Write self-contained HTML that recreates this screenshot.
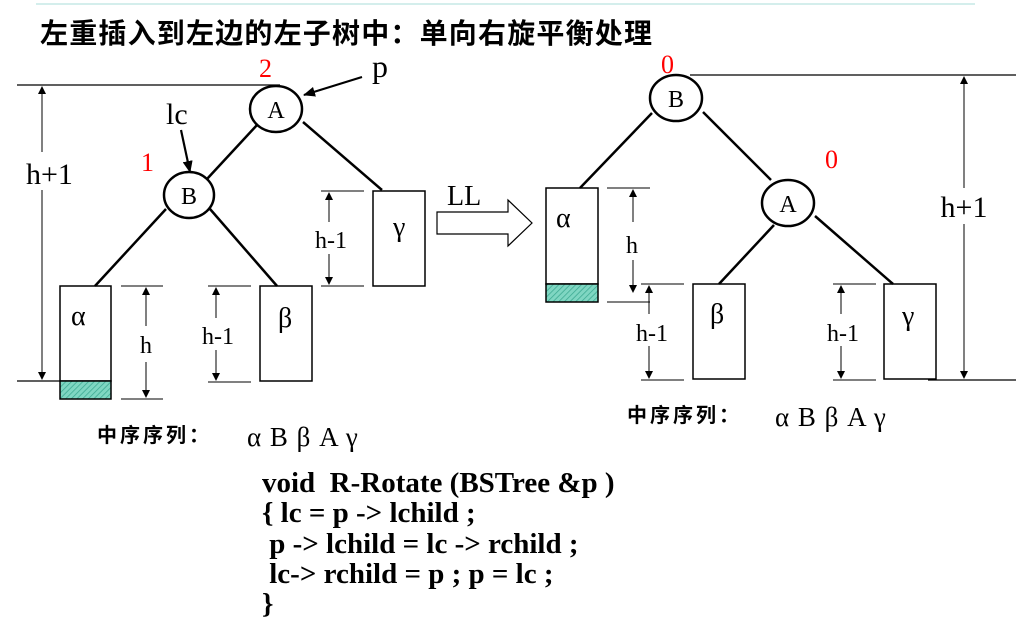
<!DOCTYPE html>
<html><head><meta charset="utf-8"><style>
html,body{margin:0;padding:0;background:#fff;}
svg{display:block;}
.t{font-family:"Liberation Serif",serif;fill:#000;}
.r{font-family:"Liberation Serif",serif;fill:#f00;}
.c{font-family:"Liberation Serif",serif;font-weight:bold;font-size:29px;fill:#000;white-space:pre;}
.cj{font-family:"Liberation Sans","Noto Sans CJK SC",sans-serif;font-weight:bold;fill:#000;}
</style></head><body>
<svg width="1024" height="635" viewBox="0 0 1024 635" xmlns="http://www.w3.org/2000/svg">
<defs>
<marker id="ah" markerWidth="8" markerHeight="8" refX="7" refY="4" orient="auto" markerUnits="userSpaceOnUse"><path d="M0,0 L8,4 L0,8 z" fill="#000"/></marker>
<marker id="ab" markerWidth="12" markerHeight="10" refX="11" refY="5" orient="auto" markerUnits="userSpaceOnUse"><path d="M0,0 L12,5 L0,10 z" fill="#000"/></marker>
<pattern id="hat" width="4" height="4" patternUnits="userSpaceOnUse" patternTransform="rotate(45)"><rect width="4" height="4" fill="#7fd6c2"/><line x1="0" y1="0" x2="0" y2="4" stroke="#3aa890" stroke-width="1.5"/></pattern>
</defs>
<line x1="36" y1="4" x2="975" y2="4" stroke="#a8dcd8" stroke-width="1"/>
<text x="40" y="43" class="cj" font-size="28" letter-spacing="1.2">左重插入到左边的左子树中：单向右旋平衡处理</text>

<!-- LEFT TREE -->
<g stroke="#000" fill="none">
<line x1="17" y1="85" x2="280" y2="85" stroke-width="1.2"/>
<line x1="17" y1="381" x2="60" y2="381" stroke-width="1.2"/>
<line x1="42" y1="152" x2="42" y2="87" marker-end="url(#ah)"/>
<line x1="42" y1="190" x2="42" y2="379" marker-end="url(#ah)"/>
<line x1="257" y1="125" x2="207" y2="179" stroke-width="2.5"/>
<line x1="303" y1="122" x2="382" y2="190" stroke-width="2.5"/>
<line x1="166" y1="209" x2="95" y2="286" stroke-width="2.5"/>
<line x1="210" y1="209" x2="277" y2="286" stroke-width="2.5"/>
<ellipse cx="276" cy="109" rx="26" ry="23" stroke-width="2.5" fill="#fff"/>
<ellipse cx="189" cy="195" rx="25" ry="23" stroke-width="2.5" fill="#fff"/>
<line x1="362" y1="77" x2="304" y2="95" stroke-width="2.2" marker-end="url(#ab)"/>
<line x1="181" y1="130" x2="190" y2="172" stroke-width="2.2" marker-end="url(#ab)"/>
<rect x="60" y="286" width="51" height="95" stroke-width="1.5"/>
<rect x="60" y="381" width="51" height="18" fill="url(#hat)" stroke-width="1.5"/>
<rect x="260" y="286" width="52" height="95" stroke-width="1.5"/>
<rect x="373" y="191" width="52" height="95" stroke-width="1.5"/>
<line x1="121" y1="286" x2="163" y2="286"/><line x1="121" y1="399" x2="163" y2="399"/>
<line x1="146" y1="326" x2="146" y2="288" marker-end="url(#ah)"/><line x1="146" y1="362" x2="146" y2="397" marker-end="url(#ah)"/>
<line x1="208" y1="286" x2="251" y2="286"/><line x1="208" y1="382" x2="251" y2="382"/>
<line x1="216" y1="318" x2="216" y2="288" marker-end="url(#ah)"/><line x1="216" y1="350" x2="216" y2="380" marker-end="url(#ah)"/>
<line x1="321" y1="191" x2="364" y2="191"/><line x1="321" y1="286" x2="364" y2="286"/>
<line x1="329" y1="222" x2="329" y2="193" marker-end="url(#ah)"/><line x1="329" y1="254" x2="329" y2="284" marker-end="url(#ah)"/>
<path d="M437,212 L508,212 L508,200 L532,223 L508,246 L508,234 L437,234 Z" stroke-width="1.2"/>
</g>
<g class="t">
<text x="26" y="184" font-size="30">h+1</text>
<text x="259" y="77" class="r" font-size="26">2</text>
<text x="372" y="77" font-size="32">p</text>
<text x="166" y="124" font-size="30">lc</text>
<text x="141" y="171" class="r" font-size="26">1</text>
<text x="276" y="118" font-size="24" text-anchor="middle">A</text>
<text x="189" y="204" font-size="24" text-anchor="middle">B</text>
<text x="71" y="325" font-size="28">α</text>
<text x="278" y="327" font-size="28">β</text>
<text x="393" y="236" font-size="28">γ</text>
<text x="146" y="353" font-size="24" text-anchor="middle">h</text>
<text x="218" y="344" font-size="24" text-anchor="middle">h-1</text>
<text x="331" y="248" font-size="24" text-anchor="middle">h-1</text>
<text x="447" y="205" font-size="28">LL</text>
</g>

<!-- RIGHT TREE -->
<g stroke="#000" fill="none">
<line x1="690" y1="75" x2="1016" y2="75" stroke-width="1.2"/>
<line x1="928" y1="380" x2="1016" y2="380" stroke-width="1.2"/>
<line x1="964" y1="188" x2="964" y2="77" marker-end="url(#ah)"/>
<line x1="964" y1="224" x2="964" y2="378" marker-end="url(#ah)"/>
<line x1="652" y1="113" x2="580" y2="188" stroke-width="2.5"/>
<line x1="703" y1="112" x2="771" y2="180" stroke-width="2.5"/>
<line x1="774" y1="225" x2="719" y2="284" stroke-width="2.5"/>
<line x1="815" y1="216" x2="893" y2="284" stroke-width="2.5"/>
<ellipse cx="676" cy="98" rx="26" ry="23" stroke-width="2.5" fill="#fff"/>
<ellipse cx="788" cy="203" rx="26" ry="23" stroke-width="2.5" fill="#fff"/>
<rect x="546" y="188" width="52" height="96" stroke-width="1.5"/>
<rect x="546" y="284" width="52" height="18" fill="url(#hat)" stroke-width="1.5"/>
<rect x="693" y="284" width="52" height="95" stroke-width="1.5"/>
<rect x="884" y="284" width="52" height="95" stroke-width="1.5"/>
<line x1="607" y1="188" x2="650" y2="188"/><line x1="607" y1="302" x2="650" y2="302"/>
<line x1="633" y1="222" x2="633" y2="190" marker-end="url(#ah)"/><line x1="633" y1="260" x2="633" y2="292" marker-end="url(#ah)"/>
<line x1="641" y1="284" x2="684" y2="284"/><line x1="641" y1="380" x2="684" y2="380"/>
<line x1="649" y1="314" x2="649" y2="286" marker-end="url(#ah)"/><line x1="649" y1="346" x2="649" y2="378" marker-end="url(#ah)"/>
<line x1="833" y1="284" x2="876" y2="284"/><line x1="833" y1="380" x2="876" y2="380"/>
<line x1="841" y1="314" x2="841" y2="286" marker-end="url(#ah)"/><line x1="841" y1="346" x2="841" y2="378" marker-end="url(#ah)"/>
</g>
<g class="t">
<text x="661" y="73" class="r" font-size="26">0</text>
<text x="825" y="168" class="r" font-size="26">0</text>
<text x="676" y="107" font-size="24" text-anchor="middle">B</text>
<text x="788" y="212" font-size="24" text-anchor="middle">A</text>
<text x="556" y="227" font-size="28">α</text>
<text x="710" y="323" font-size="28">β</text>
<text x="902" y="325" font-size="28">γ</text>
<text x="632" y="253" font-size="24" text-anchor="middle">h</text>
<text x="652" y="341" font-size="24" text-anchor="middle">h-1</text>
<text x="843" y="341" font-size="24" text-anchor="middle">h-1</text>
<text x="964" y="217" font-size="30" text-anchor="middle">h+1</text>
</g>

<text x="97" y="442" class="cj" font-size="20" letter-spacing="3">中序序列：</text>
<text x="247" y="446" class="t" font-size="27" letter-spacing="1">α B β A γ</text>
<text x="627" y="422" class="cj" font-size="20" letter-spacing="3">中序序列：</text>
<text x="775" y="426" class="t" font-size="27" letter-spacing="1">α B β A γ</text>

<text x="262" y="492" class="c" xml:space="preserve">void  R-Rotate (BSTree &amp;p )</text>
<text x="262" y="522" class="c" xml:space="preserve">{ lc = p -&gt; lchild ;</text>
<text x="262" y="553" class="c" xml:space="preserve"> p -&gt; lchild = lc -&gt; rchild ;</text>
<text x="262" y="583" class="c" xml:space="preserve"> lc-&gt; rchild = p ; p = lc ;</text>
<text x="262" y="613" class="c" xml:space="preserve">}</text>
</svg>
</body></html>
